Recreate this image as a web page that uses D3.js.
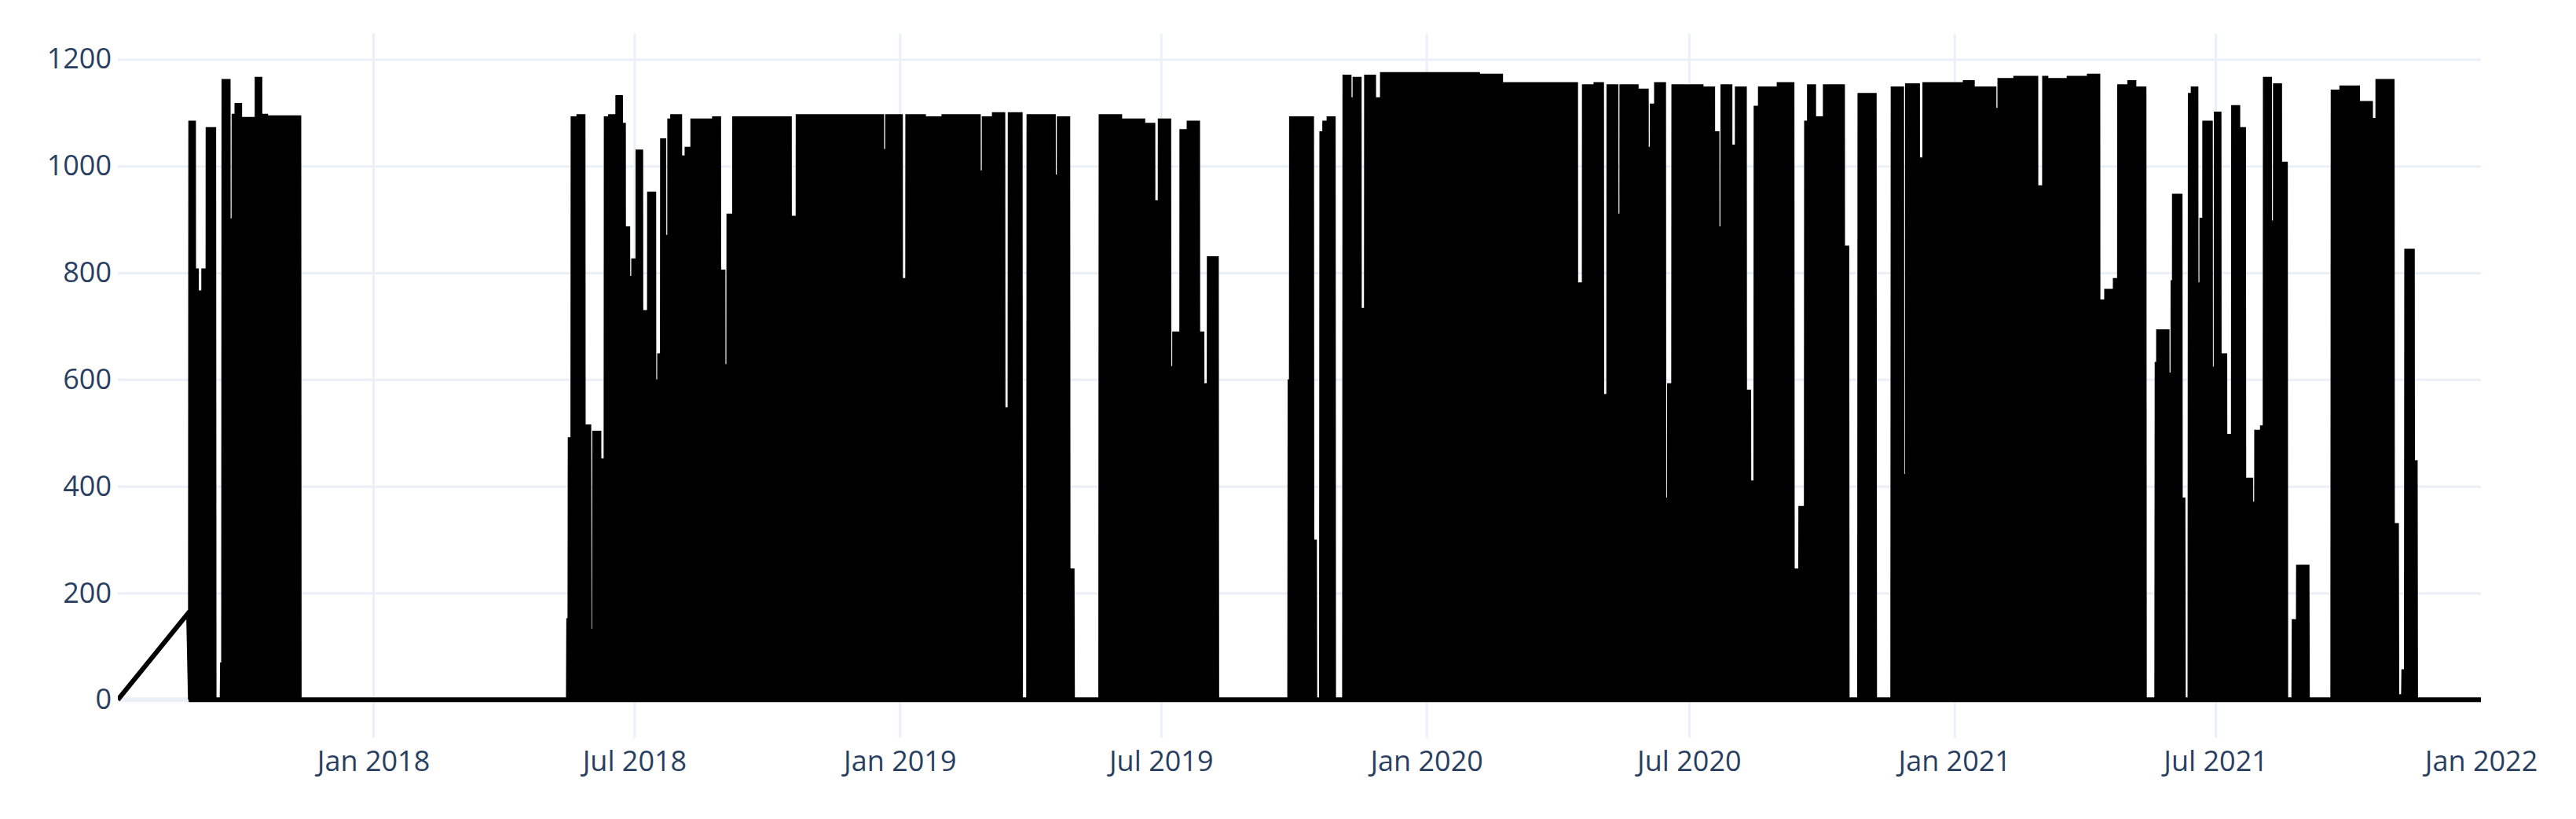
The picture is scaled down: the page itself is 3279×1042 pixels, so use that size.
<!DOCTYPE html>
<html><head><meta charset="utf-8">
<script src="https://cdn.jsdelivr.net/npm/d3@7"></script>
<style>html,body{margin:0;padding:0;background:#fff;} svg{display:block;}</style>
</head><body>
<svg id="chart" width="3279" height="1042"></svg>
<script>
// Lead-in points (data gap joined by a straight line)
const leadIn = [["2017-07-08", 0], ["2017-08-26", 163]];
// Daily peak levels: each entry holds from its date until the next entry's date (0 = off)
const steps2017 = [["2017-08-27",1085],["2017-08-30",808],["2017-09-01",767],["2017-09-04",0],["2017-09-05",808],["2017-09-08",1073],["2017-09-13",0],["2017-09-18",70],["2017-09-19",1163],["2017-09-23",902],["2017-09-26",1098],["2017-09-28",1118],["2017-10-01",1092],["2017-10-12",1167],["2017-10-15",1098],["2017-10-19",1004],["2017-10-21",1095],["2017-11-11",0]];
const steps2018 = [["2018-05-16",153],["2018-05-17",492],["2018-05-19",1093],["2018-05-21",492],["2018-05-23",1097],["2018-05-27",516],["2018-05-31",133],["2018-06-03",504],["2018-06-07",452],["2018-06-11",1093],["2018-06-14",1097],["2018-06-19",1133],["2018-06-22",1081],["2018-06-24",887],["2018-06-27",310],["2018-06-28",794],["2018-06-30",827],["2018-07-03",1031],["2018-07-06",730],["2018-07-10",419],["2018-07-11",952],["2018-07-15",600],["2018-07-18",649],["2018-07-20",1052],["2018-07-22",871],["2018-07-25",1089],["2018-07-27",1097],["2018-08-02",1020],["2018-08-06",1036],["2018-08-10",1089],["2018-08-23",1069],["2018-08-25",1093],["2018-08-29",806],["2018-09-01",629],["2018-09-04",911],["2018-09-08",1093],["2018-10-09",250],["2018-10-10",1093],["2018-10-17",907],["2018-10-21",367],["2018-10-22",1097],["2018-10-29",992],["2018-10-30",1097],["2018-11-23",976],["2018-11-24",1097],["2018-12-03",984],["2018-12-05",1097],["2018-12-09",895],["2018-12-10",1097],["2018-12-20",1032],["2018-12-23",1097],["2018-12-24",855],["2018-12-25",1097]];
const steps2019 = [["2019-01-02",790],["2019-01-03",476],["2019-01-04",790],["2019-01-06",1097],["2019-01-09",1040],["2019-01-10",1097],["2019-01-18",464],["2019-01-20",1093],["2019-01-30",806],["2019-01-31",1097],["2019-02-25",992],["2019-02-28",1093],["2019-03-07",1101],["2019-03-14",548],["2019-03-16",73],["2019-03-17",266],["2019-03-18",1101],["2019-03-26",0],["2019-03-31",1097],["2019-04-09",700],["2019-04-11",1097],["2019-04-18",984],["2019-04-21",1093],["2019-04-28",246],["2019-05-01",0],["2019-05-20",1097],["2019-05-29",411],["2019-05-30",1097],["2019-06-03",1089],["2019-06-14",980],["2019-06-15",1089],["2019-06-19",1081],["2019-06-26",936],["2019-06-30",1089],["2019-07-07",625],["2019-07-10",690],["2019-07-13",375],["2019-07-15",1069],["2019-07-20",1085],["2019-07-27",690],["2019-07-30",593],["2019-08-02",468],["2019-08-03",831],["2019-08-09",0],["2019-09-28",600],["2019-09-29",1093],["2019-10-14",300],["2019-10-16",0],["2019-10-20",1065],["2019-10-22",1085],["2019-10-25",1093],["2019-10-29",0],["2019-11-05",1171],["2019-11-09",1129],["2019-11-12",1167],["2019-11-16",734],["2019-11-20",1171],["2019-11-26",1129],["2019-12-01",1176]];
const steps2020 = [["2020-02-06",1052],["2020-02-08",1173],["2020-02-22",1157],["2020-03-06",923],["2020-03-08",1157],["2020-03-21",1016],["2020-03-22",1157],["2020-03-30",907],["2020-03-31",1157],["2020-04-14",782],["2020-04-18",0],["2020-04-19",1153],["2020-04-25",681],["2020-04-27",1157],["2020-05-02",573],["2020-05-04",351],["2020-05-06",1153],["2020-05-12",911],["2020-05-15",1153],["2020-05-26",496],["2020-05-28",1145],["2020-06-02",1036],["2020-06-05",1117],["2020-06-08",1157],["2020-06-14",379],["2020-06-16",125],["2020-06-17",593],["2020-06-20",1153],["2020-07-02",927],["2020-07-03",1153],["2020-07-10",609],["2020-07-11",1149],["2020-07-18",1065],["2020-07-21",887],["2020-07-24",1153],["2020-07-30",879],["2020-08-01",1040],["2020-08-03",1149],["2020-08-09",581],["2020-08-12",411],["2020-08-16",1113],["2020-08-19",1149],["2020-08-31",686],["2020-09-01",1157],["2020-09-11",0],["2020-09-13",246],["2020-09-16",363],["2020-09-20",1085],["2020-09-22",1153],["2020-09-26",1093],["2020-10-03",1153],["2020-10-16",851],["2020-10-19",0],["2020-10-27",1137],["2020-11-07",0],["2020-11-19",1149],["2020-11-26",423],["2020-11-29",1155],["2020-12-07",1016],["2020-12-11",1157]];
const steps2021 = [["2021-01-07",944],["2021-01-08",1161],["2021-01-14",948],["2021-01-15",1149],["2021-01-29",1109],["2021-02-01",1165],["2021-02-10",992],["2021-02-12",1169],["2021-02-27",964],["2021-03-02",266],["2021-03-04",1169],["2021-03-06",734],["2021-03-08",1165],["2021-03-21",1169],["2021-04-03",464],["2021-04-04",1173],["2021-04-11",750],["2021-04-14",383],["2021-04-16",770],["2021-04-20",415],["2021-04-22",790],["2021-04-25",1153],["2021-04-30",742],["2021-05-02",1161],["2021-05-06",1057],["2021-05-08",1149],["2021-05-13",0],["2021-05-21",633],["2021-05-22",694],["2021-05-29",613],["2021-06-01",786],["2021-06-02",948],["2021-06-07",379],["2021-06-09",0],["2021-06-13",1137],["2021-06-15",1149],["2021-06-18",782],["2021-06-21",903],["2021-06-23",1085],["2021-06-28",624],["2021-07-01",1102],["2021-07-04",649],["2021-07-08",286],["2021-07-10",498],["2021-07-13",1114],["2021-07-17",1073],["2021-07-21",241],["2021-07-22",416],["2021-07-26",371],["2021-07-29",506],["2021-08-01",457],["2021-08-02",514],["2021-08-04",1167],["2021-08-08",898],["2021-08-10",380],["2021-08-11",1155],["2021-08-15",1008],["2021-08-19",0],["2021-08-24",151],["2021-08-27",253],["2021-09-03",0],["2021-09-20",1143],["2021-09-26",1151],["2021-10-08",396],["2021-10-10",1122],["2021-10-17",853],["2021-10-19",1090],["2021-10-21",1163],["2021-11-01",331],["2021-11-04",10],["2021-11-08",57],["2021-11-10",845],["2021-11-15",449],["2021-11-17",0]];
const endPoint = ["2022-01-01", 0];

const yTicks = [0, 200, 400, 600, 800, 1000, 1200];
const xTickDates = ["2018-01-01","2018-07-01","2019-01-01","2019-07-01","2020-01-01","2020-07-01","2021-01-01","2021-07-01","2022-01-01"];
const xTickLabels = ["Jan 2018","Jul 2018","Jan 2019","Jul 2019","Jan 2020","Jul 2020","Jan 2021","Jul 2021","Jan 2022"];

const parse = d3.utcParse("%Y-%m-%d");
const steps = [...steps2017, ...steps2018, ...steps2019, ...steps2020, ...steps2021];
const series = leadIn.map(([d, v]) => ({t: parse(d), v}));
steps.forEach(([d, v], i) => {
  const start = parse(d);
  const end = parse(i + 1 < steps.length ? steps[i + 1][0] : endPoint[0]);
  if (v <= 0) { series.push({t: start, v: 0}); return; }
  d3.utcDays(start, end).forEach(day => {
    series.push({t: d3.utcHour.offset(day, 6), v: 0});
    series.push({t: d3.utcHour.offset(day, 12), v});
    series.push({t: d3.utcHour.offset(day, 18), v: 0});
  });
});
series.push({t: parse(endPoint[0]), v: endPoint[1]});

const L = 150, R = 3158, T = 43, B = 939;
const svg = d3.select("#chart");
const x = d3.scaleUtc().domain(d3.extent(series, d => d.t)).range([L, R]);
const [vmin, vmax] = d3.extent(series, d => d.v);
const pad = (vmax - vmin) * 0.061;
const y = d3.scaleLinear().domain([vmin - pad, vmax + pad]).range([B, T]);

const font = "'Open Sans', 'Noto Sans', sans-serif";
const gridColor = "#EBF0F8";
const textColor = "#2a3f5f";

// vertical grid
const xDates = xTickDates.map(parse);
svg.append("g").attr("transform", `translate(0,${B})`)
  .call(d3.axisBottom(x).tickValues(xDates.filter(d => x(d) < R - 1)).tickSize(-(B - T)).tickFormat(""))
  .call(g => g.select(".domain").remove())
  .call(g => g.selectAll("line").attr("stroke", gridColor).attr("stroke-width", 3));
// horizontal grid
svg.append("g").attr("transform", `translate(${L},0)`)
  .call(d3.axisLeft(y).tickValues(yTicks.filter(v => v !== 0)).tickSize(-(R - L)).tickFormat(""))
  .call(g => g.select(".domain").remove())
  .call(g => g.selectAll("line").attr("stroke", gridColor).attr("stroke-width", 3));
// zero line
svg.append("line").attr("x1", L).attr("x2", R).attr("y1", y(0)).attr("y2", y(0))
  .attr("stroke", gridColor).attr("stroke-width", 6);

// data line
svg.append("defs").append("clipPath").attr("id", "clip")
  .append("rect").attr("x", L).attr("y", T).attr("width", R - L).attr("height", B - T);
svg.append("path").datum(series)
  .attr("clip-path", "url(#clip)")
  .attr("fill", "none").attr("stroke", "#000").attr("stroke-width", 6)
  .attr("d", d3.line().x(d => x(d.t)).y(d => y(d.v)));

// y labels
svg.append("g").attr("transform", `translate(${L},0)`)
  .call(d3.axisLeft(y).tickValues(yTicks).tickSize(0).tickPadding(8).tickFormat(d3.format("d")))
  .call(g => g.select(".domain").remove())
  .call(g => g.selectAll("text").attr("font-family", font).attr("font-size", 36).attr("fill", textColor));
// x labels
svg.append("g").attr("transform", `translate(0,${B})`)
  .call(d3.axisBottom(x).tickValues(xDates).tickSize(0).tickPadding(16).tickFormat((d, i) => xTickLabels[i]))
  .call(g => g.select(".domain").remove())
  .call(g => g.selectAll("text").attr("font-family", font).attr("font-size", 36).attr("fill", textColor));
</script>
</body></html>
